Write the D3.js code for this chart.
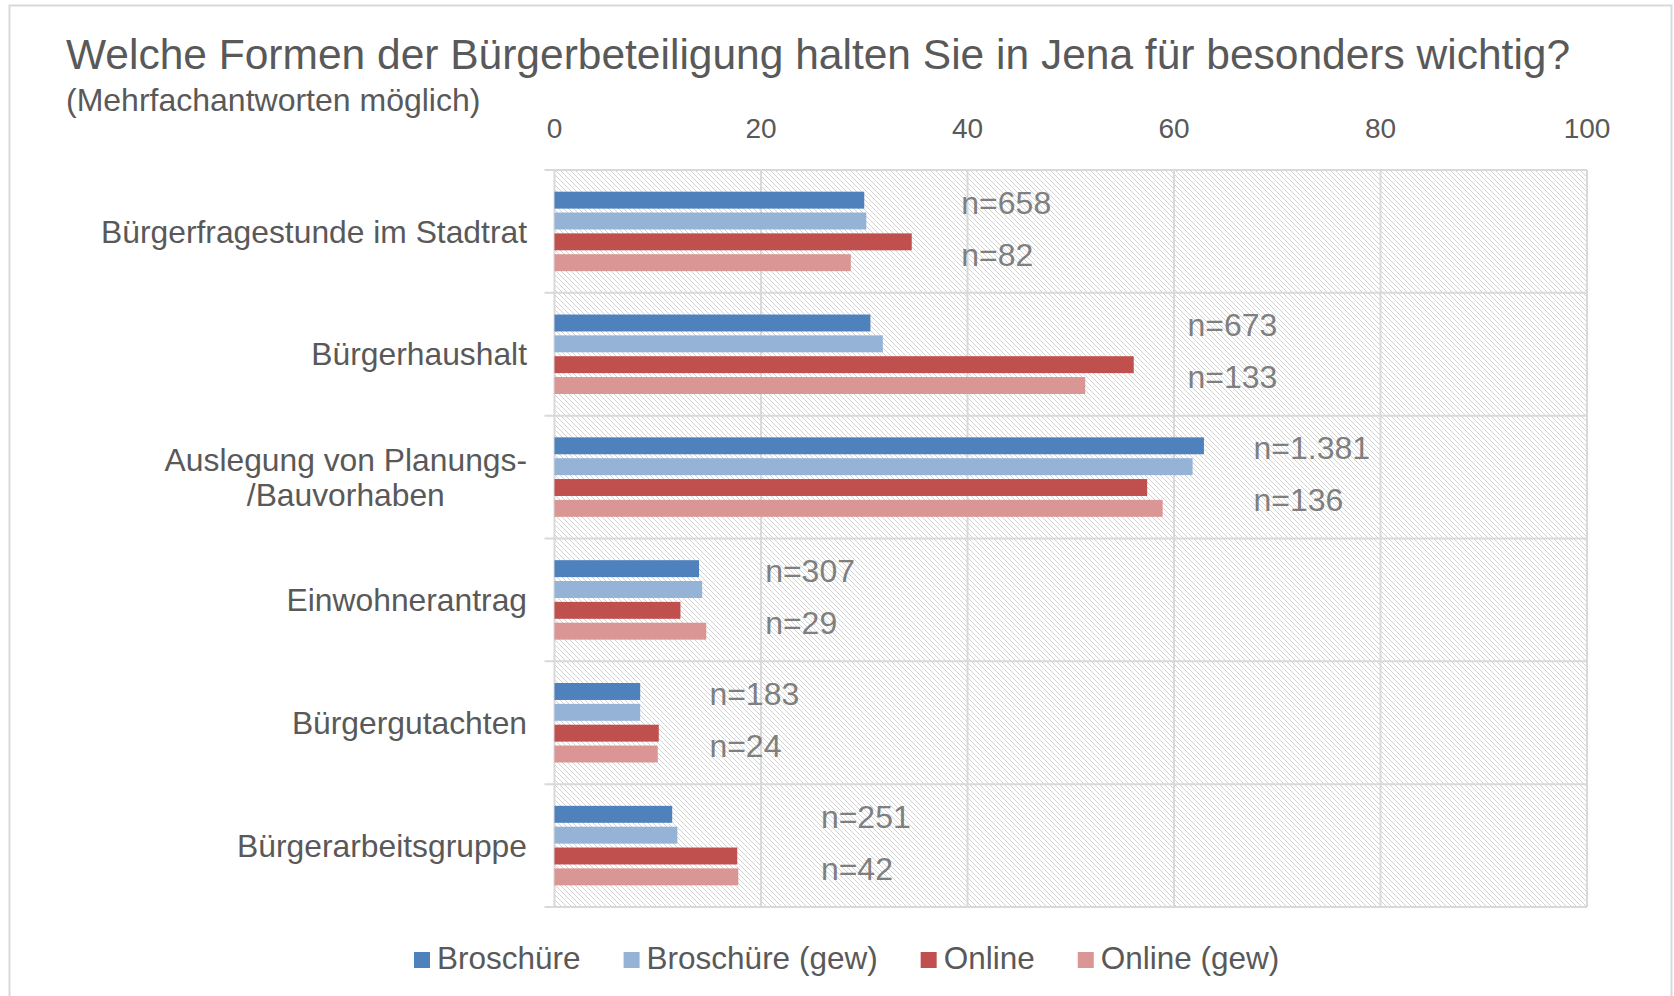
<!DOCTYPE html>
<html>
<head>
<meta charset="utf-8">
<script src="https://cdn.jsdelivr.net/npm/d3@7"></script>
<style>
  body { margin: 0; background: #fff; }
  svg text { font-family: "Liberation Sans", Arial, sans-serif; }
</style>
</head>
<body>
<svg id="chart" width="1674" height="996"></svg>
<script>
// Data
const categories = [
    'Bürgerfragestunde im Stadtrat',
    'Bürgerhaushalt',
    'Auslegung von Planungs-/Bauvorhaben',
    'Einwohnerantrag',
    'Bürgergutachten',
    'Bürgerarbeitsgruppe'
];
const categoryLines = [
    ['Bürgerfragestunde im Stadtrat'],
    ['Bürgerhaushalt'],
    ['Auslegung von Planungs-', '/Bauvorhaben'],
    ['Einwohnerantrag'],
    ['Bürgergutachten'],
    ['Bürgerarbeitsgruppe']
];
const seriesNames = ['Broschüre', 'Broschüre (gew)', 'Online', 'Online (gew)'];
const broschuere    = [30.0, 30.6, 62.9, 14.0, 8.3, 11.4];
const broschuereGew = [30.2, 31.8, 61.8, 14.3, 8.3, 11.9];
const online        = [34.6, 56.1, 57.4, 12.2, 10.1, 17.7];
const onlineGew     = [28.7, 51.4, 58.9, 14.7, 10.0, 17.8];
const nBroschuere = ['n=658', 'n=673', 'n=1.381', 'n=307', 'n=183', 'n=251'];
const nOnline     = ['n=82', 'n=133', 'n=136', 'n=29', 'n=24', 'n=42'];
const nLabelAt    = [39.4, 61.3, 67.7, 20.4, 15.0, 25.8];
const xTicks = [0, 20, 40, 60, 80, 100];

const seriesValues = [broschuere, broschuereGew, online, onlineGew];
const colors = ['#4f81bd', '#95b3d7', '#c0504d', '#d99694'];

const svg = d3.select('#chart');
const plotLeft = 554.5, plotRight = 1587, plotTop = 170, plotBottom = 907;

// Outer border
svg.append('rect')
    .attr('x', 9.5).attr('y', 5.5)
    .attr('width', 1662).attr('height', 1010)
    .attr('fill', '#fff')
    .attr('stroke', '#d9d9d9')
    .attr('stroke-width', 2);

// Hatch pattern
const defs = svg.append('defs');
const pat = defs.append('pattern')
    .attr('id', 'hatch')
    .attr('patternUnits', 'userSpaceOnUse')
    .attr('width', 5).attr('height', 5);
pat.append('rect').attr('width', 5).attr('height', 5).attr('fill', '#fff');
pat.append('path')
    .attr('d', 'M-1,-1 L6,6 M-1,4 L1,6 M4,-1 L6,1')
    .attr('stroke', '#d2d2d2')
    .attr('stroke-width', 1);

const x = d3.scaleLinear().domain([0, 100]).range([plotLeft, plotRight]);
const y = d3.scaleBand().domain(categories).range([plotTop, plotBottom]).padding(0);
const yInner = d3.scaleBand()
    .domain(seriesNames)
    .range([0, y.bandwidth()])
    .paddingInner(0.187)
    .paddingOuter(1.04);

svg.append('rect')
    .attr('x', plotLeft).attr('y', plotTop)
    .attr('width', plotRight - plotLeft).attr('height', plotBottom - plotTop)
    .attr('fill', 'url(#hatch)');

// Vertical gridlines
svg.append('g')
    .selectAll('line')
    .data(xTicks)
    .enter()
    .append('line')
    .attr('x1', d => x(d)).attr('x2', d => x(d))
    .attr('y1', plotTop).attr('y2', plotBottom)
    .attr('stroke', '#d9d9d9')
    .attr('stroke-width', 2);

// Category separators (with tick marks to the left)
const bounds = categories.map(c => y(c)).concat([plotBottom]);
svg.append('g')
    .selectAll('line')
    .data(bounds)
    .enter()
    .append('line')
    .attr('x1', plotLeft - 10).attr('x2', plotRight)
    .attr('y1', d => d).attr('y2', d => d)
    .attr('stroke', '#d9d9d9')
    .attr('stroke-width', 2);

// Top axis tick labels
svg.append('g')
    .selectAll('text')
    .data(xTicks)
    .enter()
    .append('text')
    .attr('x', d => x(d))
    .attr('y', 138)
    .attr('text-anchor', 'middle')
    .attr('font-size', 28)
    .attr('fill', '#595959')
    .text(d => d);

// Bars
seriesValues.forEach((vals, si) => {
    svg.append('g')
        .selectAll('rect')
        .data(vals)
        .enter()
        .append('rect')
        .attr('x', x(0))
        .attr('y', (d, i) => y(categories[i]) + yInner(seriesNames[si]))
        .attr('width', d => x(d) - x(0))
        .attr('height', yInner.bandwidth())
        .attr('fill', colors[si]);
});

// n labels
const nGroup = svg.append('g')
    .attr('font-size', 32)
    .attr('fill', '#7f7f7f');
categories.forEach((c, i) => {
    const cy = y(c) + y.bandwidth() / 2;
    nGroup.append('text')
        .attr('x', x(nLabelAt[i]))
        .attr('y', cy - 29)
        .attr('dy', '0.35em')
        .text(nBroschuere[i]);
    nGroup.append('text')
        .attr('x', x(nLabelAt[i]))
        .attr('y', cy + 23)
        .attr('dy', '0.35em')
        .text(nOnline[i]);
});

// Category labels
categories.forEach((c, i) => {
    const lines = categoryLines[i];
    const cy = y(c) + y.bandwidth() / 2;
    const t = svg.append('text')
        .attr('font-size', 31.8)
        .attr('fill', '#595959')
        .attr('text-anchor', 'end');
    if (lines.length === 1) {
        t.attr('x', 527).attr('y', cy).attr('dy', '0.35em').text(lines[0]);
    } else {
        // multi-line labels are centred on each other, right edge at 527
        const widths = lines.map(l => {
            const s = svg.append('text').attr('font-size', 31.8).text(l);
            const w = s.node().getComputedTextLength();
            s.remove();
            return w;
        });
        const cx = 527 - d3.max(widths) / 2;
        t.attr('text-anchor', 'middle');
        lines.forEach((l, li) => {
            t.append('tspan')
                .attr('x', cx)
                .attr('y', cy + (li - (lines.length - 1) / 2) * 35)
                .attr('dy', '0.35em')
                .text(l);
        });
    }
});

// Title
svg.append('text')
    .attr('x', 66).attr('y', 69)
    .attr('font-size', 42.5)
    .attr('fill', '#595959')
    .text('Welche Formen der Bürgerbeteiligung halten Sie in Jena für besonders wichtig?');
svg.append('text')
    .attr('x', 66).attr('y', 111)
    .attr('font-size', 32)
    .attr('fill', '#595959')
    .text('(Mehrfachantworten möglich)');

// Legend
const legend = svg.append('g').attr('font-size', 31.5).attr('fill', '#595959');
let lx = 414;
seriesNames.forEach((name, i) => {
    legend.append('rect')
        .attr('x', lx).attr('y', 952)
        .attr('width', 16).attr('height', 16)
        .attr('fill', colors[i]);
    const t = legend.append('text')
        .attr('x', lx + 23).attr('y', 969)
        .text(name);
    lx += 23 + t.node().getComputedTextLength() + 43;
});
</script>
</body>
</html>
